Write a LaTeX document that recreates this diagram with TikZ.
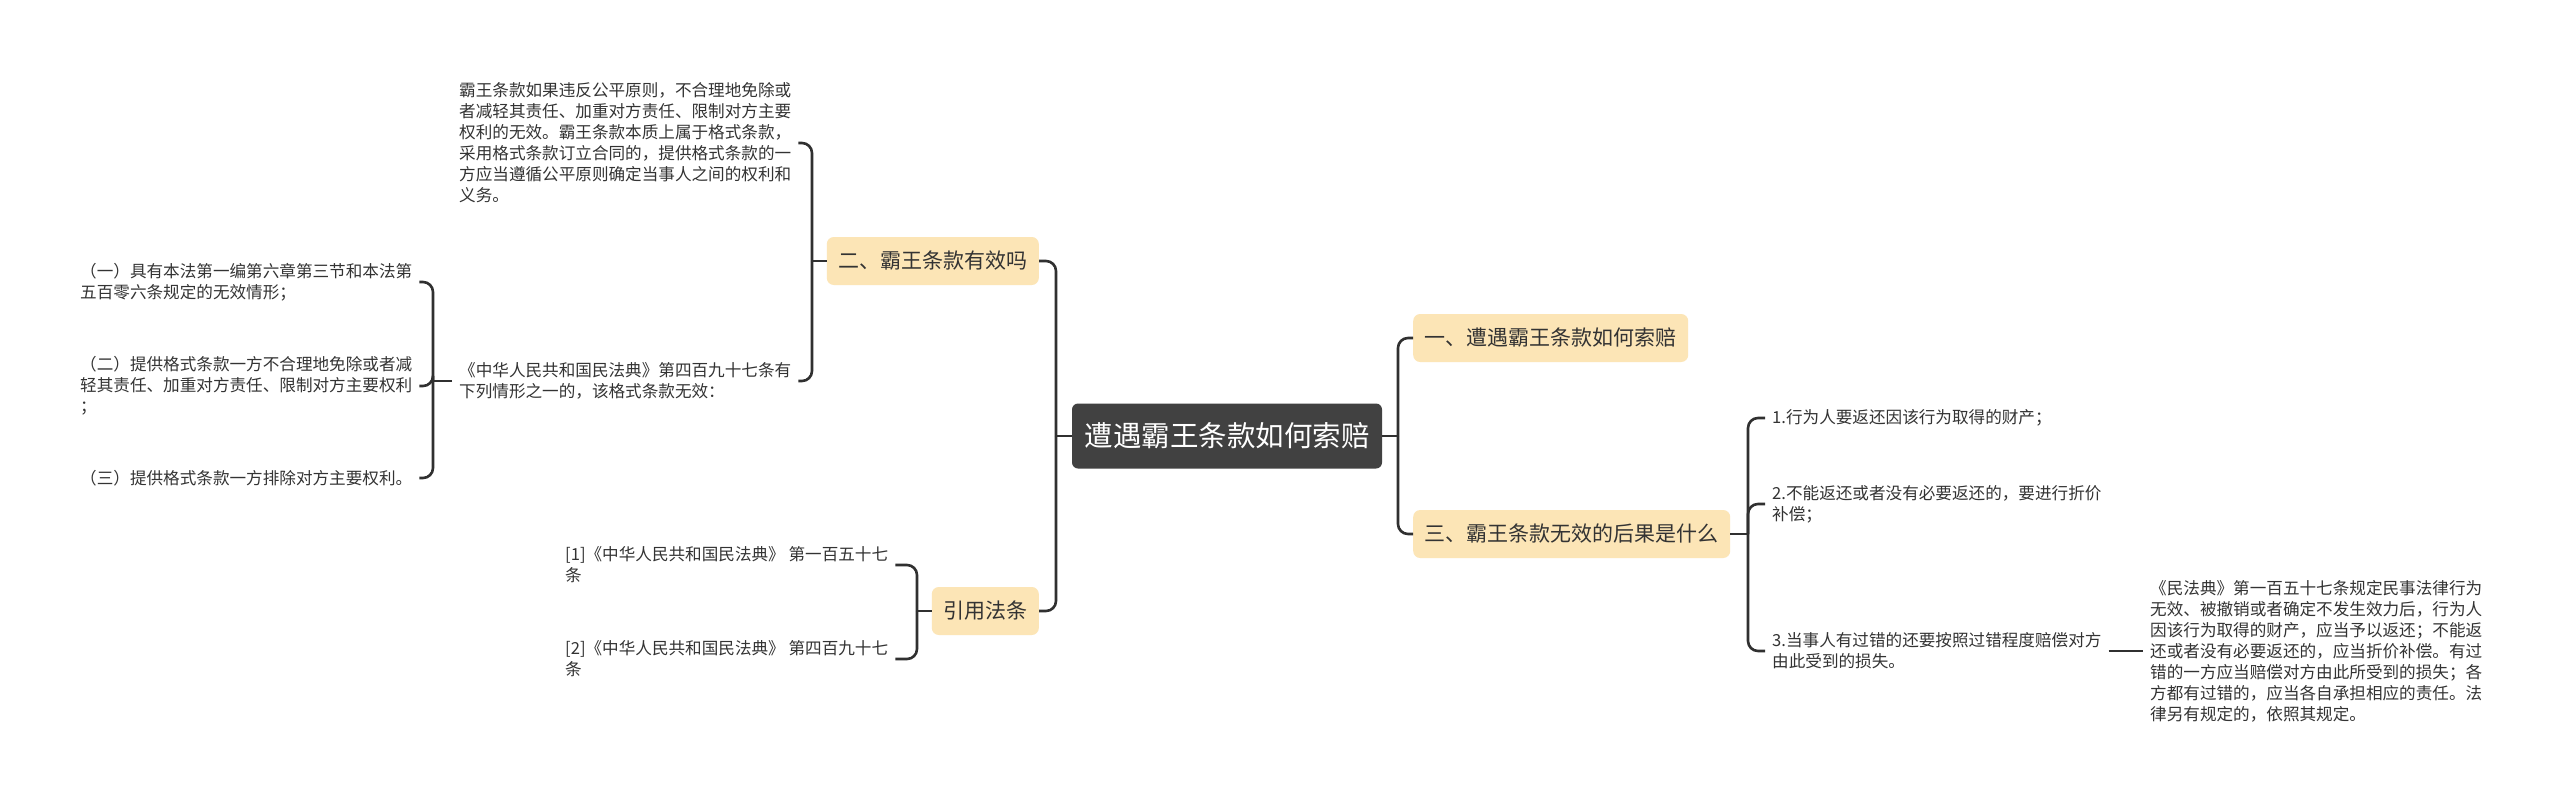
\documentclass[tikz,border=0pt]{standalone}
\usepackage{fontspec}
\newfontfamily\cjk{Noto Sans CJK SC}
\definecolor{boxfill}{HTML}{FCE5B6}
\definecolor{rootfill}{HTML}{414141}
\definecolor{txtcol}{HTML}{333333}
\definecolor{linecol}{HTML}{303030}
\begin{document}
\begin{tikzpicture}[x=1bp,y=-1bp,
  root/.style={fill=rootfill, rounded corners=6bp, text=white, font=\cjk\fontsize{28.5bp}{34bp}\selectfont, inner xsep=12.5bp, inner ysep=0pt, minimum height=65bp},
  topic/.style={fill=boxfill, rounded corners=7bp, text=txtcol, font=\cjk\fontsize{21bp}{25bp}\selectfont, inner xsep=11.5bp, inner ysep=0pt, minimum height=48bp},
  leaf/.style={text=txtcol, font=\cjk\fontsize{16.6bp}{21bp}\selectfont, align=left, inner xsep=7bp, inner ysep=2bp},
  conn/.style={draw=linecol, line width=2.6bp},
  branch/.style={conn, rounded corners=10bp}]
\useasboundingbox[fill=white] (0,0) rectangle (2560,803);

% nodes
\node[root] (root) at (1227,436) {遭遇霸王条款如何索赔};
\node[topic, anchor=east] (t2) at (1039,261) {二、霸王条款有效吗};
\node[topic, anchor=east] (t4) at (1039,611) {引用法条};
\node[topic, anchor=west] (t1) at (1413,338) {一、遭遇霸王条款如何索赔};
\node[topic, anchor=west] (t3) at (1413,534) {三、霸王条款无效的后果是什么};

\node[leaf, anchor=west] (a) at (452,143) {霸王条款如果违反公平原则，不合理地免除或\\者减轻其责任、加重对方责任、限制对方主要\\权利的无效。霸王条款本质上属于格式条款，\\采用格式条款订立合同的，提供格式条款的一\\方应当遵循公平原则确定当事人之间的权利和\\义务。};
\node[leaf, anchor=west] (b) at (452,381) {《中华人民共和国民法典》第四百九十七条有\\下列情形之一的，该格式条款无效：};
\node[leaf, anchor=west] (c1) at (73,282) {（一）具有本法第一编第六章第三节和本法第\\五百零六条规定的无效情形；};
\node[leaf, anchor=west] (c2) at (73,386) {（二）提供格式条款一方不合理地免除或者减\\轻其责任、加重对方责任、限制对方主要权利\\；};
\node[leaf, anchor=west] (c3) at (73,478) {（三）提供格式条款一方排除对方主要权利。};
\node[leaf, anchor=west] (r1) at (558,565) {[1]《中华人民共和国民法典》 第一百五十七\\条};
\node[leaf, anchor=west] (r2) at (558,659) {[2]《中华人民共和国民法典》 第四百九十七\\条};

\node[leaf, anchor=west] (n1) at (1765,418) {1.行为人要返还因该行为取得的财产；};
\node[leaf, anchor=west] (n2) at (1765,504) {2.不能返还或者没有必要返还的，要进行折价\\补偿；};
\node[leaf, anchor=west] (n3) at (1765,651) {3.当事人有过错的还要按照过错程度赔偿对方\\由此受到的损失。};
\node[leaf, anchor=west] (n4) at (2143,651) {《民法典》第一百五十七条规定民事法律行为\\无效、被撤销或者确定不发生效力后，行为人\\因该行为取得的财产，应当予以返还；不能返\\还或者没有必要返还的，应当折价补偿。有过\\错的一方应当赔偿对方由此所受到的损失；各\\方都有过错的，应当各自承担相应的责任。法\\律另有规定的，依照其规定。};

% junctions
\coordinate (jR) at (1398,436);
\coordinate (jL) at (1056,436);
\coordinate (j2) at (812,261);
\coordinate (jB) at (433,381);
\coordinate (j4) at (917,611);
\coordinate (j3) at (1748,534);

% connectors
\draw[conn] (root.east) -- (jR);
\draw[branch] (jR) |- (t1.west);
\draw[branch] (jR) |- (t3.west);
\draw[conn] (root.west) -- (jL);
\draw[branch] (jL) |- (t2.east);
\draw[branch] (jL) |- (t4.east);
\draw[conn] (t2.west) -- (j2);
\draw[branch] (j2) |- (a.east);
\draw[branch] (j2) |- (b.east);
\draw[conn] (b.west) -- (jB);
\draw[branch] (jB) |- (c1.east);
\draw[branch] (jB) |- (c2.east);
\draw[branch] (jB) |- (c3.east);
\draw[conn] (t4.west) -- (j4);
\draw[branch] (j4) |- (r1.east);
\draw[branch] (j4) |- (r2.east);
\draw[conn] (t3.east) -- (j3);
\draw[branch] (j3) |- (n1.west);
\draw[branch] (j3) |- (n2.west);
\draw[branch] (j3) |- (n3.west);
\draw[conn] (n3.east) -- (n4.west);
\end{tikzpicture}
\end{document}
